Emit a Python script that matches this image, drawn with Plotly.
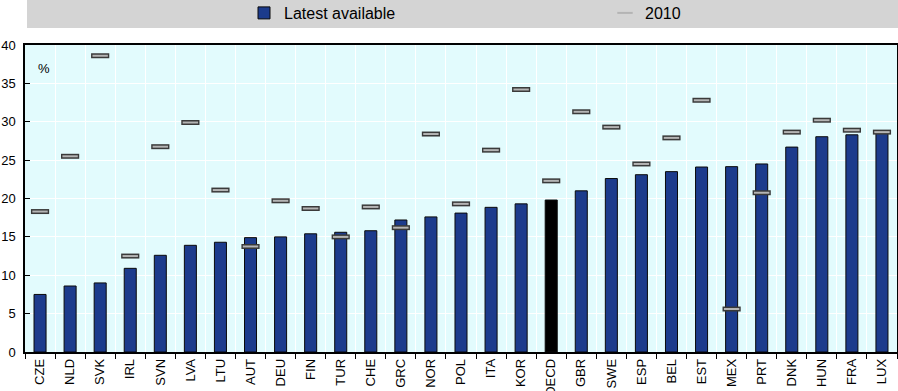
import plotly.graph_objects as go

countries = ["CZE", "NLD", "SVK", "IRL", "SVN", "LVA", "LTU", "AUT", "DEU", "FIN",
             "TUR", "CHE", "GRC", "NOR", "POL", "ITA", "KOR", "OECD", "GBR", "SWE",
             "ESP", "BEL", "EST", "MEX", "PRT", "DNK", "HUN", "FRA", "LUX"]
latest = [7.5, 8.6, 9.0, 10.9, 12.6, 13.9, 14.3, 14.9, 15.0, 15.4,
          15.6, 15.8, 17.2, 17.6, 18.1, 18.85, 19.3, 19.8, 21.0, 22.6,
          23.1, 23.5, 24.1, 24.15, 24.5, 26.7, 28.05, 28.3, 28.55]
y2010 = [18.3, 25.5, 38.6, 12.5, 26.75, 29.9, 21.1, 13.75, 19.7, 18.7,
         15.0, 18.9, 16.2, 28.4, 19.3, 26.3, 34.2, 22.3, 31.3, 29.3,
         24.5, 27.9, 32.8, 5.6, 20.75, 28.65, 30.2, 28.9, 28.65]
yticks = [0, 5, 10, 15, 20, 25, 30, 35, 40]

NAVY = "#1c3b8c"
bar_colors = ["#000000" if c == "OECD" else NAVY for c in countries]

fig = go.Figure()
fig.add_trace(go.Bar(
    x=countries, y=latest, name="Latest available",
    marker=dict(color=bar_colors, line=dict(color="#0a0a0a", width=1)),
    width=0.4, legend="legend",
))
fig.add_trace(go.Scatter(
    x=countries, y=y2010, mode="markers", name="2010", showlegend=False,
    marker=dict(symbol="line-ew", size=13, line=dict(color="#3a3a3a", width=5)),
    legend="legend2",
))
fig.add_trace(go.Scatter(
    x=countries, y=y2010, mode="markers", name="2010",
    marker=dict(symbol="line-ew", size=11, line=dict(color="#b4b4b4", width=2)),
    legend="legend2",
))

W, H = 898, 391
L, R, T, B = 25, 1, 45, 39
pw, ph = W - L - R, H - T - B

def px_x(p):
    return (p - L) / pw

def px_y(p):
    return (H - B - p) / ph

fig.add_shape(type="rect", xref="paper", yref="paper",
              x0=px_x(27), x1=px_x(898), y0=px_y(28), y1=px_y(0),
              fillcolor="#d4d4d4", line=dict(width=0), layer="below")
fig.add_annotation(text="%", xref="paper", yref="paper",
                   x=px_x(36), y=px_y(68), xanchor="left", yanchor="middle",
                   showarrow=False, font=dict(size=13, color="#000"))

leg_common = dict(orientation="h", yanchor="middle", xanchor="left",
                  bgcolor="rgba(0,0,0,0)", font=dict(size=16),
                  itemwidth=30, borderwidth=0)

fig.update_layout(
    width=W, height=H,
    margin=dict(l=L, r=R, t=T, b=B, autoexpand=False),
    paper_bgcolor="white",
    plot_bgcolor="#e2fbfd",
    font=dict(family="Liberation Sans, Arial, sans-serif", color="#000", size=13),
    barmode="overlay",
    showlegend=True,
    legend=dict(x=px_x(244), y=px_y(13), **leg_common),
    legend2=dict(x=px_x(605), y=px_y(13), **leg_common),
    xaxis=dict(
        type="category", categoryorder="array", categoryarray=countries,
        range=[-0.5, len(countries) - 0.5], autorange=False,
        tickson="boundaries", ticks="outside", ticklen=5, tickcolor="#000",
        showgrid=True, gridcolor="white", gridwidth=1,
        tickangle=-90, tickfont=dict(size=13),
        showline=True, linecolor="#000", linewidth=1.5, mirror=True,
        automargin=False,
    ),
    yaxis=dict(
        range=[0, 40], autorange=False, tickvals=yticks, ticks="inside", ticklen=5, tickcolor="#000",
        showgrid=True, gridcolor="white", gridwidth=1,
        showline=True, linecolor="#000", linewidth=1.5, mirror=True,
        tickfont=dict(size=13), zeroline=False, ticklabelstandoff=5,
        automargin=False,
    ),
)

fig.write_html("out.html", config={"displayModeBar": False},
               post_script="document.body.style.margin='0';document.body.style.padding='0';")
